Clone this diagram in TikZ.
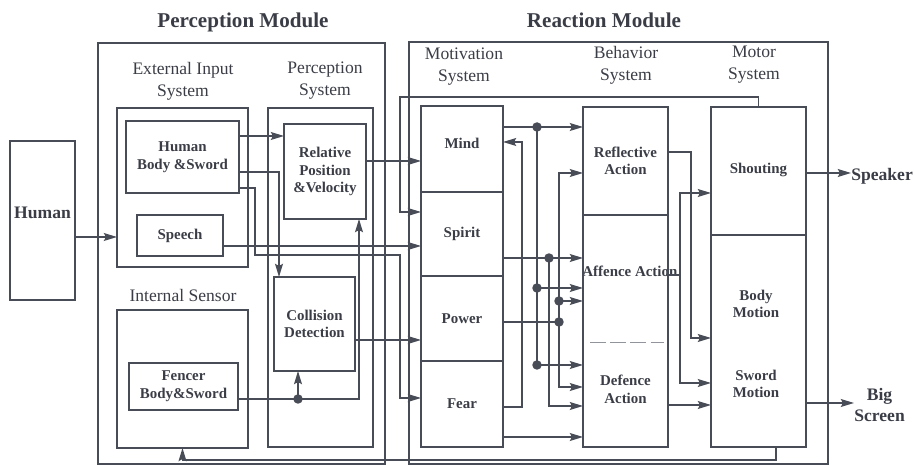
\documentclass[tikz,border=0pt]{standalone}
\usepackage{fontspec}
\setmainfont{Liberation Serif}
\usetikzlibrary{arrows.meta}
\definecolor{lncol}{RGB}{72,76,86}
\definecolor{txcol}{RGB}{58,61,70}
\newcommand\bnode[7]{\node[#6, minimum width={(#4-#2)*0.02cm}, minimum height={(#5-#3)*0.02cm}] (#1) at ({(#2+#4)/2},{(#3+#5)/2}) {#7};}
\tikzset{
  box/.style={draw=lncol, line width=0.8pt, inner sep=0pt, outer sep=0pt, align=center,
    font=\fontsize{8.5}{10}\selectfont\bfseries, text=txcol},
  plainbox/.style={inner sep=0pt, outer sep=0pt, align=center,
    font=\fontsize{8.5}{10}\selectfont\bfseries, text=txcol},
  boxtext/.style={align=center, inner sep=0pt, font=\fontsize{8.5}{10}\selectfont\bfseries, text=txcol},
  syslab/.style={align=center, inner sep=0pt, font=\fontsize{10}{12.5}\selectfont, text=txcol},
  title/.style={inner sep=0pt, font=\fontsize{12}{14}\selectfont\bfseries, text=txcol},
  outlab/.style={align=center, inner sep=0pt, font=\fontsize{10}{12.5}\selectfont\bfseries, text=txcol},
  wire/.style={draw=lncol, line width=0.8pt},
  arr/.style={wire, -{Stealth[length=7.5pt,width=4.5pt,inset=1.2pt]}},
  jdot/.style={fill=lncol, draw=none},
}
\begin{document}
\begin{tikzpicture}[x=0.02cm, y=-0.02cm]
\useasboundingbox (0,0) rectangle (914,465);

% titles
\node[title] (ptitle) at (243,22) {Perception Module};
\node[title] (rtitle) at (604,20) {Reaction Module};

% modules
\bnode{pmod}{98}{43}{385}{464}{box}{}
\bnode{rmod}{409}{42}{828}{464}{box}{}

% perception module labels
\node[syslab] (extl) at (183,81) {External Input\\System};
\node[syslab] (psysl) at (325,81) {Perception\\System};
\node[syslab] (intl) at (183,295) {Internal Sensor};

% reaction module labels
\node[syslab] (motl) at (464,67) {Motivation\\System};
\node[syslab] (behl) at (626,65) {Behavior\\System};
\node[syslab] (motorl) at (754,65) {Motor\\System};

% Human
\bnode{human}{10}{141}{75}{300}{box, font=\fontsize{10}{12}\selectfont\bfseries}{Human\\[-3pt]}

% perception module boxes
\bnode{ext}{117}{108}{248}{267}{box}{}
\bnode{hbs}{126}{121}{239}{193}{box}{Human\\Body \&Sword}
\bnode{speech}{137}{215}{223}{256}{box}{Speech}
\bnode{intsens}{117}{310}{248}{448}{box}{}
\bnode{fencer}{129}{363}{238}{410}{box}{Fencer\\Body\&Sword}
\bnode{psys}{268}{108}{373}{447}{box}{}
\bnode{rel}{284}{124}{366}{219}{box}{Relative\\Position\\\&Velocity}
\bnode{coll}{274}{277}{355}{371}{box}{Collision\\Detection}

% motivation system
\bnode{mind}{421}{106}{503}{192}{box}{Mind\\[-3.2pt]}
\bnode{spirit}{421}{192}{503}{276}{box}{Spirit}
\bnode{power}{421}{276}{503}{361}{box}{Power}
\bnode{fear}{421}{361}{503}{447}{box}{Fear}

% behavior system
\bnode{refl}{583}{107}{668}{215}{box}{Reflective\\Action}
\bnode{aff}{583}{215}{668}{342}{plainbox}{\makebox[0pt]{\hspace{5pt}Affence Action}\\[-2pt]}
\bnode{def}{583}{342}{668}{447}{plainbox}{Defence\\Action\\[-4pt]}
\draw[wire] (aff.north west) rectangle (def.south east);
\draw[draw=lncol!60, line width=0.5pt, dash pattern=on 9pt off 2.5pt] ([xshift=4pt]def.north west) -- ([xshift=-2pt]def.north east);

% motor system
\bnode{shout}{711}{107}{806}{235}{box}{Shouting\\[-6.6pt]}
\bnode{motion}{711}{235}{806}{447}{box}{}
\node[boxtext] (bodyl) at (756,304) {Body\\Motion};
\node[boxtext] (swordl) at (756,384) {Sword\\Motion};

% outputs
\node[outlab, anchor=west] (spk) at (851,176) {Speaker};
\node[outlab, anchor=west] (bigs) at (854,405) {Big\\Screen};

% ---------- connectors: perception ----------
\draw[arr] (human.east |- 0,237) -- (ext.west |- 0,237);
\draw[arr] (hbs.east |- 0,136) -- (rel.west |- 0,136);
\draw[arr] (hbs.east |- 0,172) -| (coll.north -| 279,0);
\draw[arr] (hbs.east |- 0,188) -| (255,255) -| (400,398) -- (fear.west |- 0,398);
\draw[arr] (speech.east |- 0,246) -- (spirit.west |- 0,246);
\draw[arr] (rel.east |- 0,161) -- (mind.west |- 0,161);
\draw[arr] (coll.east |- 0,340) -- (power.west |- 0,340);
\coordinate (fj) at (298,399);
\draw[arr] (fencer.east |- 0,399) -| (rel.south -| 359,0);
\draw[arr] (fj) -- (coll.south -| fj);
\fill[jdot] (fj) circle[radius=2.7pt];

% feedback loops
\coordinate (tfb) at (400,97);
\draw[arr] (shout.north) |- (tfb) |- (spirit.west |- 0,212);
\coordinate (fbr) at (776,460);
\draw[arr] (fbr |- motion.south) -- (fbr) -| (intsens.south);

% ---------- connectors: motivation -> behavior ----------
\coordinate (m1) at (537,127);
\coordinate (m2) at (537,288);
\coordinate (m3) at (537,365);
\draw[arr] (mind.east |- m1) -- (refl.west |- m1);
\draw[wire] (m1) -- (m3);
\draw[arr] (m2) -- (aff.west |- m2);
\draw[arr] (m3) -- (def.west |- m3);

\coordinate (s1) at (549,258);
\draw[arr] (spirit.east |- s1) -- (aff.west |- s1);
\draw[arr] (s1) |- (def.west |- 0,406);

\coordinate (p1) at (559,322);
\coordinate (p2) at (559,301);
\draw[wire] (power.east |- p1) -- (p1);
\draw[arr] (p1) |- (refl.west |- 0,173);
\draw[arr] (p1) |- (def.west |- 0,387);
\draw[arr] (p2) -- (aff.west |- p2);

\draw[arr] (fear.east |- 0,407) -| (522,142) -- (mind.east |- 0,142);
\draw[arr] (fear.east |- 0,437) -- (def.west |- 0,437);

\foreach \d in {m1,m2,m3,s1,p1,p2} \fill[jdot] (\d) circle[radius=2.7pt];

% ---------- behavior -> motor ----------
\draw[arr] (refl.east |- 0,152) -| (691,338) -- (motion.west |- 0,338);
\coordinate (aj) at (680,275);
\draw[wire] (aff.east |- aj) -- (aj);
\draw[arr] (aj) |- (shout.west |- 0,193);
\draw[arr] (aj) |- (motion.west |- 0,383);
\draw[arr] (def.east |- 0,405) -- (motion.west |- 0,405);

% ---------- motor -> outputs ----------
\draw[arr] (shout.east |- 0,173) -- (spk.west |- 0,173);
\draw[arr] (motion.east |- 0,403) -- (bigs.west |- 0,403);
\end{tikzpicture}
\end{document}
